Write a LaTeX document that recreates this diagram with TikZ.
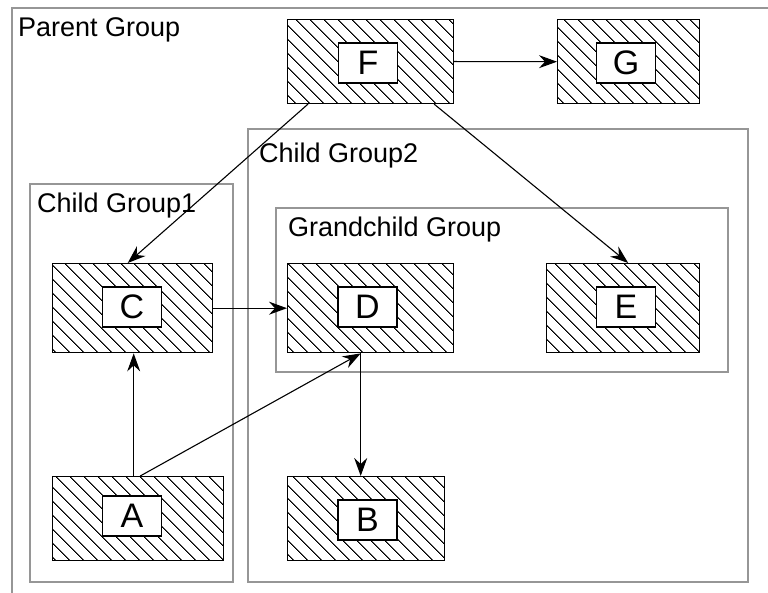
\documentclass[tikz,border=0pt]{standalone}
\usepackage{fontspec}
\setmainfont{Liberation Sans}
\usetikzlibrary{patterns.meta,arrows.meta}

\definecolor{framegray}{RGB}{150,150,150}

\tikzset{
  groupframe/.style={draw=framegray,line width=1.8pt},
  grouplabel/.style={anchor=base west,inner sep=0pt,font=\fontsize{27}{27}\selectfont},
  hatchbox/.style={draw,line width=1.4pt,anchor=north west,inner sep=0pt,
    pattern={Lines[angle=-45,distance=10.5pt,line width=1.1pt]}},
  letterbox/.style={draw,fill=white,line width=1.4pt,inner sep=0pt,
    minimum width=59pt,minimum height=40pt,font=\fontsize{34}{34}\selectfont},
  arr/.style={-{Stealth[length=18pt,width=13pt,inset=6pt]},line width=1.1pt}
}

\begin{document}
\begin{tikzpicture}[x=1pt,y=-1pt]
  \useasboundingbox (0,0) rectangle (768,593);

  % groups
  \draw[groupframe] (12,593) -- (12,8) -- (768,8);
  \draw[groupframe] (30,184) rectangle (233,582);
  \draw[groupframe] (248,129) rectangle (748,582);
  \draw[groupframe] (276,208) rectangle (728,372);

  \node[grouplabel] (pg) at (18,37) {Parent Group};
  \node[grouplabel] (cg1) at (37,213) {Child Group1};
  \node[grouplabel] (cg2) at (259,163) {Child Group2};
  \node[grouplabel] (gcg) at (288,237) {Grandchild Group};

  % boxes
  \node[hatchbox,minimum width=166pt,minimum height=84pt] (F) at (287,19) {};
  \node[hatchbox,minimum width=142pt,minimum height=84pt] (G) at (557,19) {};
  \node[hatchbox,minimum width=160pt,minimum height=89pt] (C) at (52,263) {};
  \node[hatchbox,minimum width=166pt,minimum height=89pt] (D) at (287,263) {};
  \node[hatchbox,minimum width=153pt,minimum height=89pt] (E) at (546,263) {};
  \node[hatchbox,minimum width=171pt,minimum height=84pt] (A) at (52,476) {};
  \node[hatchbox,minimum width=157pt,minimum height=84pt] (B) at (287,476) {};

  \node[letterbox] (Fl) at (368,63) {F};
  \node[letterbox] (Gl) at (626,63) {G};
  \node[letterbox] (Cl) at (132,307) {C};
  \node[letterbox] (Dl) at (367.5,307) {D};
  \node[letterbox] (El) at (626,307) {E};
  \node[letterbox] (Al) at (132,516) {A};
  \node[letterbox] (Bl) at (367.5,520) {B};

  % edges
  \draw[arr] (F.east) -- (G.west);
  \draw[arr] ([xshift=21pt]F.south west) -- ([xshift=-5pt]C.north);
  \draw[arr] ([xshift=-20pt]F.south east) -- ([xshift=5pt]E.north);
  \draw[arr] (C.east) -- (D.west);
  \draw[arr] ([xshift=-4.5pt]A.north) -- ([xshift=1pt]C.south);
  \draw[arr] ([xshift=2pt]A.north) -- ([xshift=-10pt]D.south);
  \draw[arr] ([xshift=-10pt]D.south) -- ([xshift=-5.5pt]B.north);
\end{tikzpicture}
\end{document}
